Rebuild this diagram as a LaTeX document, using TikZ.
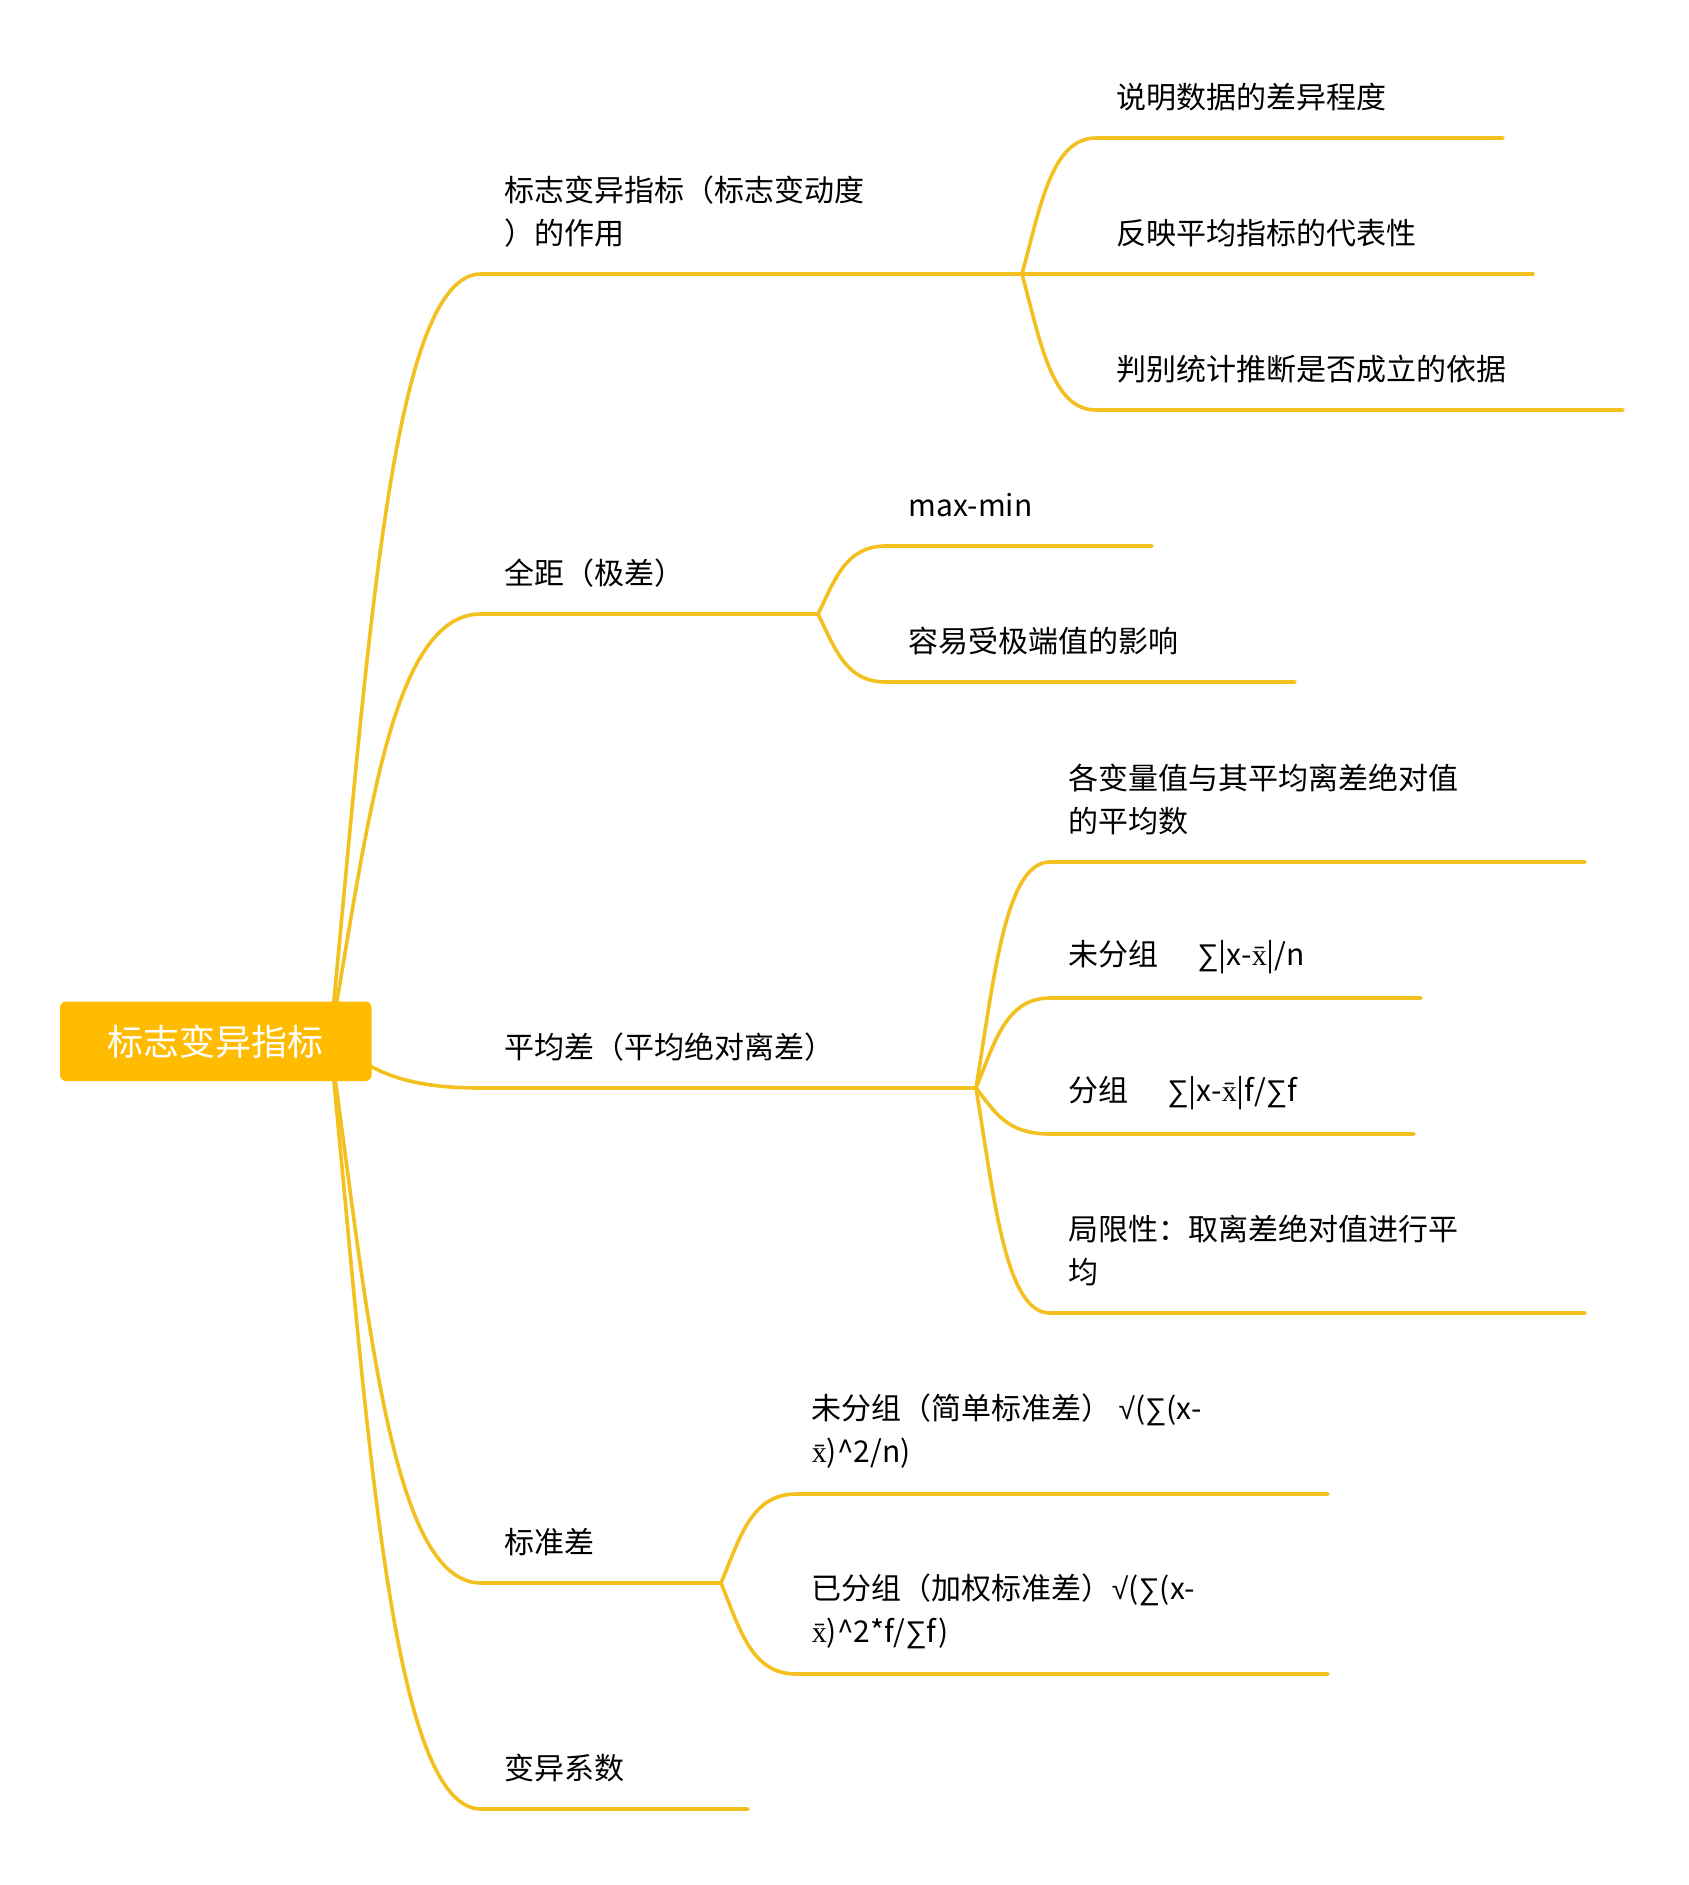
\documentclass[tikz,border=0pt]{standalone}
\usepackage{fontspec}
\setmainfont{Noto Sans CJK SC}
\newfontfamily\serifx{Liberation Serif}
\newfontfamily\symf{Liberation Sans}
\usetikzlibrary{calc,backgrounds}
\definecolor{linec}{RGB}{242,192,31}
\definecolor{rootc}{RGB}{255,187,0}
\newcommand{\xbar}{{\serifx x̄}}
\newcommand{\sumsym}{{\symf ∑}}
\newcommand{\sqrtsym}{{\symf √}}
\tikzset{
 conn/.style={draw=linec, line width=1.8pt, line cap=round},
 branch/.style={to path={let \p1=(\tikztostart), \p2=(\tikztotarget) in .. controls ({\x1+0.25*(\x2-\x1)},{\y1+0.5*(\y2-\y1)}) and ({\x2-0.6*(\x2-\x1)},\y2) .. (\p2) \tikztonodes}},
 lbl/.style={anchor=west, inner sep=0pt, align=left, font=\fontsize{15pt}{21.5pt}\selectfont, text=black},
 rootbox/.style={fill=rootc, rounded corners=3pt, minimum width=155.75pt, minimum height=39.75pt, text=white, font=\fontsize{18pt}{22pt}\selectfont, inner sep=0pt}
}
\begin{document}
\begin{tikzpicture}[x=0.5pt,y=-0.5pt]
\useasboundingbox (0,0) rectangle (1688,1885);
% root
\node[rootbox] (root) at (215.75,1041.25) {标志变异指标};
% coordinates
\coordinate (hub) at (330,1041);
\coordinate (s1) at (481,274);  \coordinate (bp1) at (1022,274);
\coordinate (s2) at (481,614);  \coordinate (bp2) at (818,614);
\coordinate (s3) at (481,1088); \coordinate (bp3) at (976,1088);
\coordinate (s4) at (481,1583); \coordinate (bp4) at (721,1583);
\coordinate (s5) at (481,1809); \coordinate (e5) at (748,1809);
\coordinate (a1s) at (1096,138); \coordinate (a1e) at (1503,138);
\coordinate (a2e) at (1533,274);
\coordinate (a3s) at (1096,410); \coordinate (a3e) at (1623,410);
\coordinate (b1s) at (886,546); \coordinate (b1e) at (1152,546);
\coordinate (b2s) at (886,682); \coordinate (b2e) at (1295,682);
\coordinate (c1s) at (1050,862); \coordinate (c1e) at (1585,862);
\coordinate (c2s) at (1050,998); \coordinate (c2e) at (1421,998);
\coordinate (c3s) at (1050,1134); \coordinate (c3e) at (1414,1134);
\coordinate (c4s) at (1050,1313); \coordinate (c4e) at (1585,1313);
\coordinate (d1s) at (796,1494); \coordinate (d1e) at (1328,1494);
\coordinate (d2s) at (796,1674); \coordinate (d2e) at (1328,1674);
% connectors
\begin{scope}[on background layer]
\draw[conn] (hub) to[branch] (s1) -- (bp1);
\draw[conn] (hub) to[branch] (s2) -- (bp2);
\draw[conn] (hub) to[branch] (s3) -- (bp3);
\draw[conn] (hub) to[branch] (s4) -- (bp4);
\draw[conn] (hub) to[branch] (s5) -- (e5);
\end{scope}
\draw[conn] (bp1) to[branch] (a1s) -- (a1e);
\draw[conn] (bp1) -- (a2e);
\draw[conn] (bp1) to[branch] (a3s) -- (a3e);
\draw[conn] (bp2) to[branch] (b1s) -- (b1e);
\draw[conn] (bp2) to[branch] (b2s) -- (b2e);
\draw[conn] (bp3) to[branch] (c1s) -- (c1e);
\draw[conn] (bp3) to[branch] (c2s) -- (c2e);
\draw[conn] (bp3) to[branch] (c3s) -- (c3e);
\draw[conn] (bp3) to[branch] (c4s) -- (c4e);
\draw[conn] (bp4) to[branch] (d1s) -- (d1e);
\draw[conn] (bp4) to[branch] (d2s) -- (d2e);
% level 1 labels
\node[lbl] (t1) at (504,211.5) {标志变异指标（标志变动度\\）的作用};
\node[lbl] (t2) at (504,573) {全距（极差）};
\node[lbl] (t3) at (504,1047) {平均差（平均绝对离差）};
\node[lbl] (t4) at (504,1542) {标准差};
\node[lbl] (t5) at (504,1768) {变异系数};
% level 2 labels
\node[lbl] (ta1) at (1116,97) {说明数据的差异程度};
\node[lbl] (ta2) at (1116,233) {反映平均指标的代表性};
\node[lbl] (ta3) at (1116,369) {判别统计推断是否成立的依据};
\node[lbl] (tb1) at (908,505) {max-min};
\node[lbl] (tb2) at (908,641) {容易受极端值的影响};
\node[lbl] (tc1) at (1068,799.5) {各变量值与其平均离差绝对值\\的平均数};
\node[lbl] (tc2) at (1068,957) {未分组\hspace{1.3em}\sumsym|x-\xbar|/n};
\node[lbl] (tc3) at (1068,1093) {分组\hspace{1.3em}\sumsym|x-\xbar|f/\sumsym f};
\node[lbl] (tc4) at (1068,1250.5) {局限性：取离差绝对值进行平\\均};
\node[lbl] (td1) at (811.5,1431.5) {未分组（简单标准差） \sqrtsym(\sumsym(x-\\\xbar)\textasciicircum 2/n)};
\node[lbl] (td2) at (811.5,1611.5) {已分组（加权标准差）\sqrtsym(\sumsym(x-\\\xbar)\textasciicircum 2*f/\sumsym f)};
\end{tikzpicture}
\end{document}
